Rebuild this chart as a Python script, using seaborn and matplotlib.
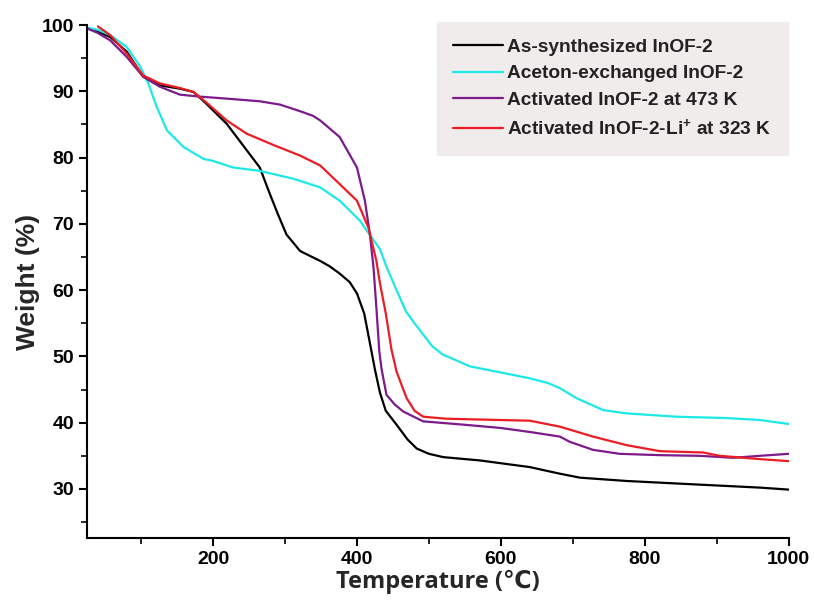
import numpy as np
import pandas as pd
import matplotlib
matplotlib.use("Agg")
import matplotlib.pyplot as plt
import seaborn as sns
from matplotlib.ticker import MultipleLocator

# ---- data ----
labels = ["As-synthesized InOF-2", "Aceton-exchanged InOF-2",
          "Activated InOF-2 at 473 K", r"Activated InOF-2-Li$^{\mathbf{+}}$ at 323 K"]
colors = ["#000000", "#1de8e8", "#7d1a8c", "#ec1c24"]

t_black = [25, 40, 57, 80, 103, 126, 154, 173, 191, 219, 242, 265, 279, 290, 302, 321, 349, 362,
           376, 390, 400, 410, 418, 425, 432, 440, 455, 470, 483, 500, 520, 571, 640, 682, 710,
           775, 867, 960, 1000]
w_black = [99.5, 99.0, 98.2, 96.0, 92.2, 90.9, 90.4, 89.9, 88.1, 85.1, 81.8, 78.5, 74.5, 71.5,
           68.4, 65.9, 64.4, 63.6, 62.5, 61.2, 59.5, 56.5, 52.0, 48.0, 44.5, 41.8, 39.7, 37.5,
           36.1, 35.3, 34.8, 34.3, 33.3, 32.3, 31.7, 31.2, 30.7, 30.2, 29.9]

t_cyan = [25, 40, 57, 80, 99, 110, 122, 136, 159, 187, 200, 228, 265, 312, 349, 376, 404, 418,
          432, 441, 455, 468, 480, 492, 505, 519, 557, 594, 640, 665, 682, 705, 742, 775, 844,
          913, 960, 1000]
w_cyan = [99.6, 99.3, 98.5, 96.7, 93.7, 91.2, 87.6, 84.1, 81.6, 79.8, 79.5, 78.5, 78.0, 76.8,
          75.5, 73.5, 70.5, 68.3, 66.2, 63.5, 60.0, 56.8, 55.0, 53.3, 51.5, 50.3, 48.5, 47.7,
          46.7, 46.0, 45.2, 43.7, 41.9, 41.4, 40.9, 40.7, 40.4, 39.8]

t_purple = [25, 40, 57, 80, 103, 126, 154, 182, 219, 265, 293, 321, 339, 349, 376, 400, 411,
            418, 423, 427, 431, 434, 441, 452, 464, 492, 548, 600, 640, 682, 696, 728, 765, 821,
            876, 923, 960, 1000]
w_purple = [99.5, 98.8, 97.7, 95.2, 92.2, 90.7, 89.5, 89.2, 88.9, 88.5, 88.0, 87.0, 86.3, 85.6,
            83.1, 78.5, 73.5, 68.4, 63.4, 57.3, 50.8, 48.2, 44.2, 42.8, 41.7, 40.2, 39.7, 39.2,
            38.6, 37.9, 37.1, 35.9, 35.3, 35.1, 35.0, 34.7, 35.0, 35.3]

t_red = [40, 57, 80, 103, 126, 154, 173, 191, 219, 247, 284, 321, 349, 376, 400, 416, 427, 432,
         440, 448, 455, 469, 480, 492, 524, 600, 640, 682, 728, 775, 821, 881, 904, 960, 1000]
w_red = [99.8, 98.5, 95.7, 92.4, 91.2, 90.5, 89.9, 88.3, 85.6, 83.6, 81.9, 80.3, 78.8, 76.0,
         73.5, 69.4, 64.4, 61.0, 56.5, 51.0, 47.7, 43.7, 41.8, 40.9, 40.6, 40.4, 40.3, 39.4,
         37.9, 36.6, 35.7, 35.5, 35.0, 34.5, 34.2]

series = [(t_black, w_black), (t_cyan, w_cyan), (t_purple, w_purple), (t_red, w_red)]
frames = []
for lab, (t, w) in zip(labels, series):
    frames.append(pd.DataFrame({"T": t, "W": w, "sample": lab}))
df = pd.concat(frames, ignore_index=True)

# ---- style ----
sns.set_theme(style="ticks")
plt.rcParams["font.family"] = ["Liberation Sans", "DejaVu Sans"]
plt.rcParams["font.weight"] = "bold"
plt.rcParams["mathtext.fontset"] = "custom"
plt.rcParams["mathtext.bf"] = "Liberation Sans:bold"
plt.rcParams["mathtext.rm"] = "Liberation Sans:bold"

fig = plt.figure(figsize=(8.14, 6.07), dpi=100)
ax = fig.add_axes([0.107, 0.1137, 0.862, 0.845])

sns.lineplot(data=df, x="T", y="W", hue="sample", palette=dict(zip(labels, colors)),
             hue_order=labels, sort=False, estimator=None, linewidth=1.6, ax=ax)

ax.set_xlim(25, 1000)
ax.set_ylim(22.6, 100)
ax.xaxis.set_minor_locator(MultipleLocator(100))
ax.yaxis.set_minor_locator(MultipleLocator(5))
ax.set_xticks([200, 400, 600, 800, 1000])
ax.set_yticks([30, 40, 50, 60, 70, 80, 90, 100])

for s in ["top", "right"]:
    ax.spines[s].set_visible(False)
for s in ["left", "bottom"]:
    ax.spines[s].set_linewidth(1.5)
    ax.spines[s].set_color("black")

ax.tick_params(axis="both", which="major", direction="out", length=6, width=1.5,
               labelsize=14, colors="black")
ax.tick_params(axis="both", which="minor", direction="out", length=4, width=1.2, colors="black")
for lbl in ax.get_xticklabels() + ax.get_yticklabels():
    lbl.set_fontweight("bold")

ax.set_xlabel("Temperature (℃)", fontsize=17, fontweight="bold", labelpad=1,
              family=["Open Sans", "DejaVu Sans"])
ax.set_ylabel("Weight (%)", fontsize=19, fontweight="bold", labelpad=1)

leg = ax.legend(loc="upper right", bbox_to_anchor=(0.999, 1.006), borderaxespad=0,
                fontsize=13.8, frameon=True, fancybox=False, handlelength=2.6,
                handletextpad=0.25, labelspacing=0.48, borderpad=0.85)
leg.get_frame().set_facecolor("#f1ecec")
leg.get_frame().set_edgecolor("#f1ecec")
leg.get_frame().set_alpha(1)
for txt in leg.get_texts():
    txt.set_fontweight("bold")
    txt.set_color("#222222")

fig.savefig("out.png", dpi=100)
